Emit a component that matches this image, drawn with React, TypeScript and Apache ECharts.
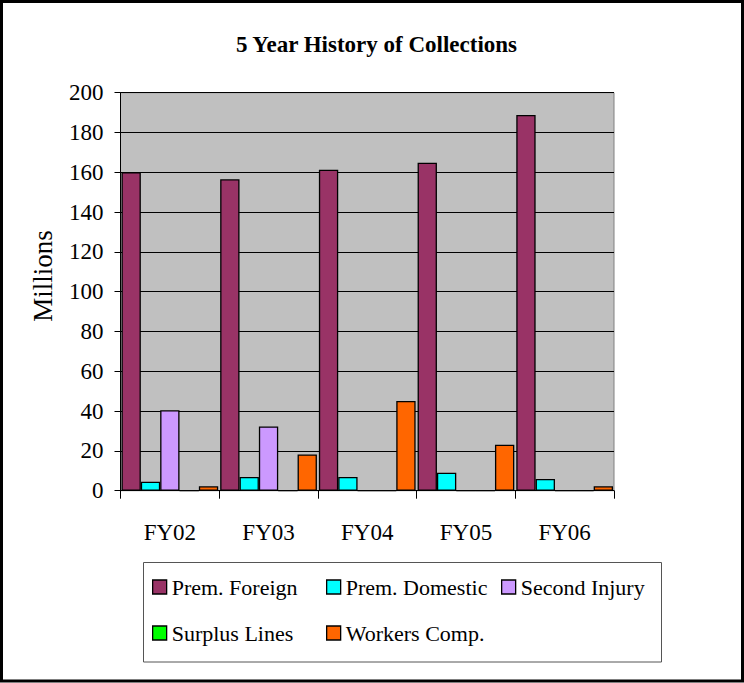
import React, { useEffect, useRef } from "react";
import * as echarts from "echarts";

const categories = ["FY02", "FY03", "FY04", "FY05", "FY06"];
const seriesNames = ["Prem. Foreign", "Prem. Domestic", "Second Injury", "Surplus Lines", "Workers Comp."];
const premForeign = [160, 156.5, 161.3, 164.8, 188.8];
const premDomestic = [4.5, 6.9, 6.9, 9.0, 5.9];
const secondInjury = [40.4, 32.3, 0, 0, 0];
const surplusLines = [0, 0, 0, 0, 0];
const workersComp = [2.2, 18.2, 45.1, 23.1, 2.2];
const colors = ["#993366", "#00FFFF", "#CC99FF", "#00FF00", "#FF6600"];
const yMin = 0;
const yMax = 200;
const yInterval = 20;

const FONT = "Liberation Serif";

export default function App() {
  const ref = useRef<HTMLDivElement>(null);
  useEffect(() => {
    if (!ref.current) return;
    const chart = echarts.init(ref.current, null, { renderer: "svg" });
    const values = [premForeign, premDomestic, secondInjury, surplusLines, workersComp];
    const series = seriesNames.map((name, i) => ({
      name,
      type: "bar",
      data: values[i],
      barGap: "0%",
      barCategoryGap: "2%",
      itemStyle: { color: colors[i], borderColor: "#000", borderWidth: 1.3 },
    }));
    const legendCommon = {
      orient: "vertical",
      padding: 0,
      itemWidth: 14,
      itemHeight: 14,
      itemGap: 22,
      icon: "rect",
      textStyle: { fontFamily: FONT, fontSize: 22, color: "#000", lineHeight: 24 },
      itemStyle: { borderColor: "#000", borderWidth: 1.3 },
      top: 575,
    };
    chart.setOption({
      animation: false,
      backgroundColor: "#fff",
      textStyle: { fontFamily: FONT },
      title: {
        text: "5 Year History of Collections",
        left: 371.5,
        textAlign: "center",
        top: 28,
        textStyle: { fontFamily: FONT, fontSize: 23, fontWeight: "bold", color: "#000" },
      },
      legend: [
        { ...legendCommon, left: 152, data: [seriesNames[0], seriesNames[3]] },
        { ...legendCommon, left: 326, data: [seriesNames[1], seriesNames[4]] },
        { ...legendCommon, left: 501, data: [seriesNames[2]] },
      ],
      grid: {
        left: 120.5,
        top: 92.7,
        width: 493.5,
        height: 398,
        show: true,
        backgroundColor: "#C0C0C0",
        borderColor: "#808080",
        borderWidth: 1,
      },
      xAxis: {
        type: "category",
        data: categories,
        axisLine: { lineStyle: { color: "#000", width: 1 } },
        axisTick: { show: true, length: 8, lineStyle: { color: "#000" } },
        axisLabel: { fontFamily: FONT, fontSize: 23, color: "#000", margin: 30 },
      },
      yAxis: {
        type: "value",
        min: yMin,
        max: yMax,
        interval: yInterval,
        axisLine: { show: true, lineStyle: { color: "#000", width: 1 } },
        axisTick: { show: true, length: 6, lineStyle: { color: "#000" } },
        axisLabel: { fontFamily: FONT, fontSize: 23, color: "#000", margin: 17 },
        splitLine: { show: true, lineStyle: { color: "#000", width: 1 } },
      },
      graphic: [
        {
          type: "rect",
          shape: { x: 1.5, y: 1.5, width: 741, height: 679.5 },
          style: { fill: "none", stroke: "#000", lineWidth: 3 },
          silent: true,
        },
        {
          type: "rect",
          shape: { x: 143.5, y: 562.5, width: 518, height: 99.5 },
          style: { fill: "none", stroke: "#555", lineWidth: 1 },
          silent: true,
        },
        {
          type: "text",
          x: 43,
          y: 276,
          rotation: Math.PI / 2,
          style: {
            text: "Millions",
            fontFamily: FONT,
            fontSize: 27,
            fill: "#000",
            align: "center",
            verticalAlign: "middle",
          },
          silent: true,
        },
      ],
      series,
    });
    return () => chart.dispose();
  }, []);
  return (
    <div
      ref={ref}
      style={{ position: "absolute", left: 0, top: 0, width: 744, height: 683, background: "#fff" }}
    />
  );
}
